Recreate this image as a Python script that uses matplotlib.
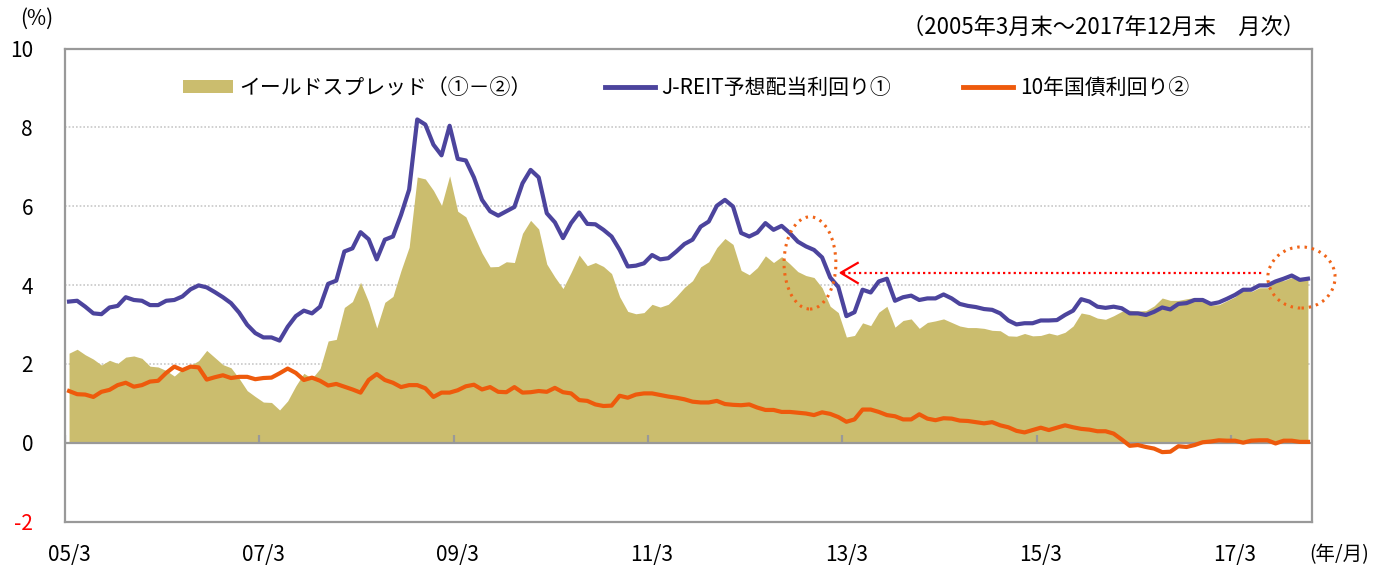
import numpy as np
import matplotlib
matplotlib.use('agg')
import matplotlib.pyplot as plt
from matplotlib.patches import Ellipse, Patch
from matplotlib.lines import Line2D

plt.rcParams['font.family'] = ['Noto Sans CJK JP', 'DejaVu Sans']

# monthly, 2005/3 .. 2017/12
reit = [3.58, 3.60, 3.45, 3.28, 3.26, 3.43, 3.47, 3.69, 3.62, 3.60,
        3.49, 3.49, 3.60, 3.62, 3.71, 3.89, 3.99, 3.94, 3.82, 3.69,
        3.54, 3.30, 2.99, 2.78, 2.67, 2.67, 2.59, 2.94, 3.21, 3.35,
        3.28, 3.45, 4.03, 4.11, 4.85, 4.93, 5.34, 5.16, 4.65, 5.15,
        5.23, 5.78, 6.42, 8.20, 8.07, 7.56, 7.29, 8.04, 7.20, 7.16,
        6.73, 6.16, 5.87, 5.76, 5.87, 5.98, 6.58, 6.92, 6.73, 5.82,
        5.59, 5.19, 5.57, 5.84, 5.55, 5.54, 5.40, 5.23, 4.89, 4.47,
        4.49, 4.55, 4.76, 4.65, 4.68, 4.85, 5.04, 5.15, 5.48, 5.61,
        6.01, 6.16, 5.99, 5.32, 5.23, 5.33, 5.57, 5.40, 5.50, 5.32,
        5.10, 4.98, 4.89, 4.70, 4.19, 3.95, 3.21, 3.31, 3.88, 3.81,
        4.09, 4.16, 3.60, 3.69, 3.73, 3.62, 3.66, 3.66, 3.76, 3.66,
        3.52, 3.47, 3.44, 3.39, 3.37, 3.28, 3.10, 3.00, 3.03, 3.03,
        3.10, 3.10, 3.11, 3.24, 3.35, 3.64, 3.58, 3.45, 3.42, 3.45,
        3.41, 3.28, 3.28, 3.24, 3.32, 3.43, 3.38, 3.52, 3.54, 3.62,
        3.62, 3.52, 3.56, 3.65, 3.75, 3.88, 3.88, 3.99, 3.99, 4.09,
        4.16, 4.24, 4.13, 4.16]

jgb = [1.31, 1.23, 1.22, 1.16, 1.29, 1.34, 1.46, 1.52, 1.42, 1.46,
       1.55, 1.57, 1.77, 1.93, 1.84, 1.93, 1.91, 1.60, 1.66, 1.71,
       1.64, 1.67, 1.67, 1.61, 1.64, 1.65, 1.76, 1.88, 1.77, 1.59,
       1.65, 1.57, 1.45, 1.49, 1.42, 1.35, 1.27, 1.59, 1.74, 1.59,
       1.52, 1.41, 1.46, 1.46, 1.38, 1.16, 1.27, 1.27, 1.33, 1.43,
       1.47, 1.35, 1.41, 1.29, 1.28, 1.41, 1.27, 1.28, 1.31, 1.29,
       1.39, 1.28, 1.25, 1.08, 1.06, 0.97, 0.93, 0.94, 1.19, 1.14,
       1.22, 1.25, 1.25, 1.21, 1.17, 1.14, 1.10, 1.04, 1.02, 1.02,
       1.06, 0.98, 0.96, 0.95, 0.97, 0.89, 0.83, 0.83, 0.78, 0.78,
       0.76, 0.74, 0.70, 0.77, 0.73, 0.65, 0.53, 0.59, 0.84, 0.84,
       0.78, 0.70, 0.67, 0.59, 0.59, 0.72, 0.61, 0.57, 0.62, 0.61,
       0.56, 0.55, 0.52, 0.49, 0.52, 0.44, 0.39, 0.30, 0.26, 0.32,
       0.38, 0.32, 0.38, 0.44, 0.39, 0.35, 0.33, 0.29, 0.29, 0.23,
       0.08, -0.08, -0.06, -0.11, -0.15, -0.24, -0.23, -0.09, -0.11, -0.06,
       0.01, 0.03, 0.06, 0.05, 0.05, 0.00, 0.05, 0.06, 0.06, -0.02,
       0.05, 0.05, 0.02, 0.02]

xlabels = ['05/3', '07/3', '09/3', '11/3', '13/3', '15/3', '17/3']
xlabel_idx = [0, 24, 48, 72, 96, 120, 144]
ytick_vals = [-2, 0, 2, 4, 6, 8, 10]

c_area = '#CBBD6E'
c_reit = '#4C449D'
c_jgb = '#EE5A0C'
c_axis = '#999999'

reit = np.array(reit)
jgb = np.array(jgb)
spread = reit - jgb
x = np.arange(len(reit))

W, H = 1389, 567
fig = plt.figure(figsize=(W / 100, H / 100), dpi=100)
ax = fig.add_axes([65 / W, 1 - 521.5 / H, (1312 - 65) / W, (521.5 - 48.5) / H])

for v in [2, 4, 6, 8]:
    ax.axhline(v, color='#C8C8C8', lw=1.2, ls=(0, (1, 1.2)), zorder=0)

ax.fill_between(x, 0, spread, color=c_area, lw=0, zorder=1)
ax.plot(x, reit, color=c_reit, lw=3, zorder=3, solid_joinstyle='round')
ax.plot(x, jgb, color=c_jgb, lw=3, zorder=3, solid_joinstyle='round')

ax.axhline(0, color=c_axis, lw=1.6, zorder=2)
ax.vlines(np.array(xlabel_idx) - 0.5, 0, 0.2, color=c_axis, lw=1.6, zorder=2)

ax.set_xlim(-0.5, len(reit) - 0.5)
ax.set_ylim(-2, 10)
ax.set_xticks(xlabel_idx)
ax.set_xticklabels(xlabels)
ax.set_yticks(ytick_vals)
ax.set_yticklabels([str(v) for v in ytick_vals])
ax.tick_params(axis='x', length=0, pad=16.5, labelsize=15)
ax.tick_params(axis='y', length=0, pad=23, labelsize=15)
ax.get_yticklabels()[0].set_color('red')
for s in ax.spines.values():
    s.set_color(c_axis)
    s.set_linewidth(1.6)

# annotations
ax.add_patch(Ellipse((91.5, 4.56), 6.4, 2.34, fill=False, ec='#F06418', lw=2.2,
                     ls=(0, (0.8, 1.6)), zorder=5))
ax.add_patch(Ellipse((152.2, 4.19), 8.3, 1.55, fill=False, ec='#F06418', lw=2.2,
                     ls=(0, (0.8, 1.6)), zorder=5, clip_on=False))
ax.plot([95.6, 147.4], [4.31, 4.31], color='red', lw=1.6, ls=(0, (1, 1.4)), zorder=5)
ax.plot([97.4, 95.3, 97.4], [4.56, 4.31, 4.05], color='red', lw=1.6, zorder=5)

handles = [Patch(color=c_area, lw=0),
           Line2D([], [], color=c_reit, lw=3.5),
           Line2D([], [], color=c_jgb, lw=3.5)]
names = ['イールドスプレッド（①－②）', 'J-REIT予想配当利回り①', '10年国債利回り②']
ax.legend(handles, names, loc='center', bbox_to_anchor=(0.498, 1 - (88 - 48.5) / 473),
          ncol=3, frameon=False, fontsize=15, handlelength=2.4, handleheight=0.6,
          handletextpad=0.3, columnspacing=3.5)

fig.text(37 / W, 1 - 19 / H, '(%)', ha='center', va='center', fontsize=15)
fig.text(1305 / W, 1 - 27 / H, '（2005年3月末～2017年12月末　月次）', ha='right',
         va='center', fontsize=16)
fig.text(1339 / W, 1 - 555 / H, '(年/月)', ha='center', va='center', fontsize=14)

fig.savefig('out.png', dpi=100)
